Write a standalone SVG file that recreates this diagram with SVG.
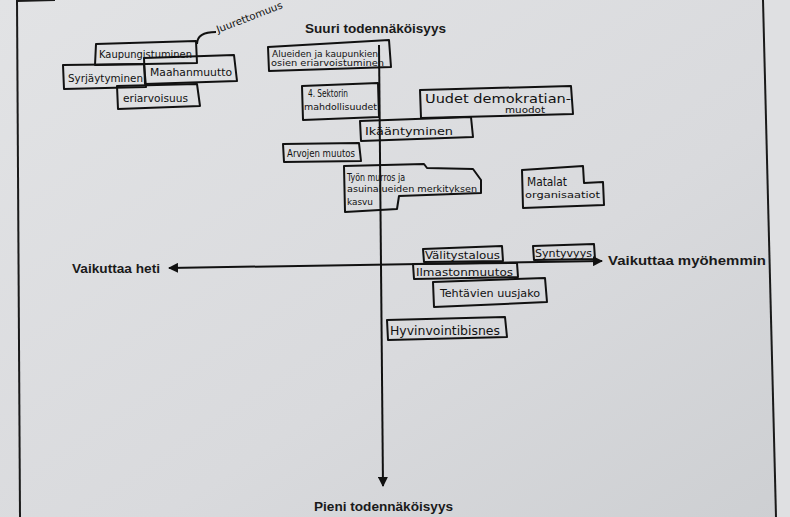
<svg xmlns="http://www.w3.org/2000/svg" width="790" height="517" viewBox="0 0 790 517">
<defs>
<linearGradient id="bg" x1="0" y1="0" x2="1" y2="1">
<stop offset="0" stop-color="#e2e3e5"/>
<stop offset="0.6" stop-color="#d9dadd"/>
<stop offset="1" stop-color="#cdcfd2"/>
</linearGradient>
<marker id="arr" viewBox="0 0 10 10" refX="9" refY="5" markerWidth="5" markerHeight="5" orient="auto-start-reverse" markerUnits="strokeWidth">
<path d="M0,0 L10,5 L0,10 z" fill="#111"/>
</marker>
<style>
.box{fill:none;stroke:#111;stroke-width:2;stroke-linejoin:round}
.hw{font-family:"DejaVu Sans Condensed","Liberation Sans Narrow","Liberation Sans",sans-serif;fill:#111}
.lbl{font-family:"Liberation Sans","DejaVu Sans",sans-serif;font-weight:bold;font-size:13px;fill:#1a1a1a}
.ax{stroke:#111;stroke-width:2;fill:none}
.border{stroke:#1a1a1a;stroke-width:2;fill:none}
</style>
</defs>
<rect width="790" height="517" fill="url(#bg)"/>
<polygon points="763,0 790,0 790,517 776,517" fill="#dfe0e2"/>
<g id="page-border">
<line class="border" x1="17" y1="0" x2="20" y2="517"/>
<line class="border" x1="763" y1="0" x2="776" y2="517"/>
<line class="border" x1="17" y1="1" x2="55" y2="0" stroke-width="3"/>
</g>
<g id="axis-labels">
<text class="lbl" x="305" y="33" textLength="141" lengthAdjust="spacingAndGlyphs">Suuri todennäköisyys</text>
<text class="lbl" x="314" y="511" textLength="139" lengthAdjust="spacingAndGlyphs">Pieni todennäköisyys</text>
<text class="lbl" x="72" y="273" textLength="88" lengthAdjust="spacingAndGlyphs">Vaikuttaa heti</text>
<text class="lbl" x="608" y="265" textLength="158" lengthAdjust="spacingAndGlyphs">Vaikuttaa myöhemmin</text>
</g>
<g id="connectors">
<line class="ax" x1="379" y1="45" x2="383" y2="486" marker-end="url(#arr)"/>
<line class="ax" x1="169" y1="268" x2="602" y2="261" marker-start="url(#arr)" marker-end="url(#arr)"/>
<path class="ax" d="M197,44 C197,36 203,32 216,32"/>
</g>
<g id="juurettomuus">
<text class="hw" font-size="10" x="218" y="33" textLength="70" lengthAdjust="spacingAndGlyphs" transform="rotate(-21 218 33)">Juurettomuus</text>
</g>
<g id="kaupungistuminen">
<polygon class="box" points="96,44 196,41 197,63 95,65"/>
<text class="hw" font-size="11" x="99" y="58" textLength="93" lengthAdjust="spacingAndGlyphs">Kaupungistuminen</text>
</g>
<g id="syrjaytyminen">
<polygon class="box" points="63,65 144,64 146,87 64,89"/>
<text class="hw" font-size="10" x="68" y="82" textLength="75" lengthAdjust="spacingAndGlyphs">Syrjäytyminen</text>
</g>
<g id="maahanmuutto">
<polygon class="box" points="144,58 234,55 237,81 145,84"/>
<text class="hw" font-size="11" x="150" y="76" textLength="82" lengthAdjust="spacingAndGlyphs">Maahanmuutto</text>
</g>
<g id="eriarvoisuus">
<polygon class="box" points="117,86 197,84 200,106 118,109"/>
<text class="hw" font-size="11" x="123" y="102" textLength="65" lengthAdjust="spacingAndGlyphs">eriarvoisuus</text>
</g>
<g id="alueiden">
<polygon class="box" points="268,47 389,40 391,67 269,71"/>
<text class="hw" font-size="9" x="272" y="57" textLength="106" lengthAdjust="spacingAndGlyphs">Alueiden ja kaupunkien</text>
<text class="hw" font-size="9" x="271" y="66" textLength="113" lengthAdjust="spacingAndGlyphs">osien eriarvoistuminen</text>
</g>
<g id="sektori">
<polygon class="box" points="302,86 378,83 379,117 303,120"/>
<text class="hw" font-size="10" x="308" y="97" textLength="40" lengthAdjust="spacingAndGlyphs">4. Sektorin</text>
<text class="hw" font-size="9" x="304" y="110" textLength="73" lengthAdjust="spacingAndGlyphs">mahdollisuudet</text>
</g>
<g id="demokratia">
<polygon class="box" points="420,90 571,86 573,114 421,118"/>
<text class="hw" font-size="13" x="425" y="103" textLength="146" lengthAdjust="spacingAndGlyphs">Uudet demokratian-</text>
<text class="hw" font-size="9" x="505" y="113" textLength="40" lengthAdjust="spacingAndGlyphs">muodot</text>
</g>
<g id="ikaantyminen">
<polygon class="box" points="360,121 471,117 473,137 361,141"/>
<text class="hw" font-size="11" x="365" y="135" textLength="88" lengthAdjust="spacingAndGlyphs">Ikääntyminen</text>
</g>
<g id="arvojen">
<polygon class="box" points="283,144 359,143 361,161 284,162"/>
<text class="hw" font-size="10" x="287" y="157" textLength="68" lengthAdjust="spacingAndGlyphs">Arvojen muutos</text>
</g>
<g id="tyon-murros">
<polygon class="box" points="344,166 424,164 427,168 473,169 481,180 481,193 399,196 397,209 345,212"/>
<text class="hw" font-size="10" x="347" y="181" textLength="58" lengthAdjust="spacingAndGlyphs">Työn murros ja</text>
<text class="hw" font-size="9" x="347" y="192" textLength="130" lengthAdjust="spacingAndGlyphs">asuinalueiden merkityksen</text>
<text class="hw" font-size="9" x="347" y="205" textLength="26" lengthAdjust="spacingAndGlyphs">kasvu</text>
</g>
<g id="matalat">
<polygon class="box" points="522,170 583,166 584,183 603,182 604,205 523,208"/>
<text class="hw" font-size="12" x="527" y="186" textLength="40" lengthAdjust="spacingAndGlyphs">Matalat</text>
<text class="hw" font-size="9" x="525" y="198" textLength="75" lengthAdjust="spacingAndGlyphs">organisaatiot</text>
</g>
<g id="valitystalous">
<polygon class="box" points="423,249 502,246 503,261 424,262"/>
<text class="hw" font-size="11" x="425" y="259" textLength="75" lengthAdjust="spacingAndGlyphs">Välitystalous</text>
</g>
<g id="syntyvyys">
<polygon class="box" points="533,246 594,244 595,259 534,260"/>
<text class="hw" font-size="10" x="535" y="257" textLength="57" lengthAdjust="spacingAndGlyphs">Syntyvyys</text>
</g>
<g id="ilmastonmuutos">
<polygon class="box" points="413,264 517,263 518,277 414,279"/>
<text class="hw" font-size="11" x="416" y="276" textLength="97" lengthAdjust="spacingAndGlyphs">Ilmastonmuutos</text>
</g>
<g id="tehtavien">
<polygon class="box" points="433,282 545,278 547,302 434,307"/>
<text class="hw" font-size="11" x="440" y="297" textLength="100" lengthAdjust="spacingAndGlyphs">Tehtävien uusjako</text>
</g>
<g id="hyvinvointibisnes">
<polygon class="box" points="387,320 505,317 507,337 388,340"/>
<text class="hw" font-size="12" x="390" y="335" textLength="110" lengthAdjust="spacingAndGlyphs">Hyvinvointibisnes</text>
</g>
</svg>
